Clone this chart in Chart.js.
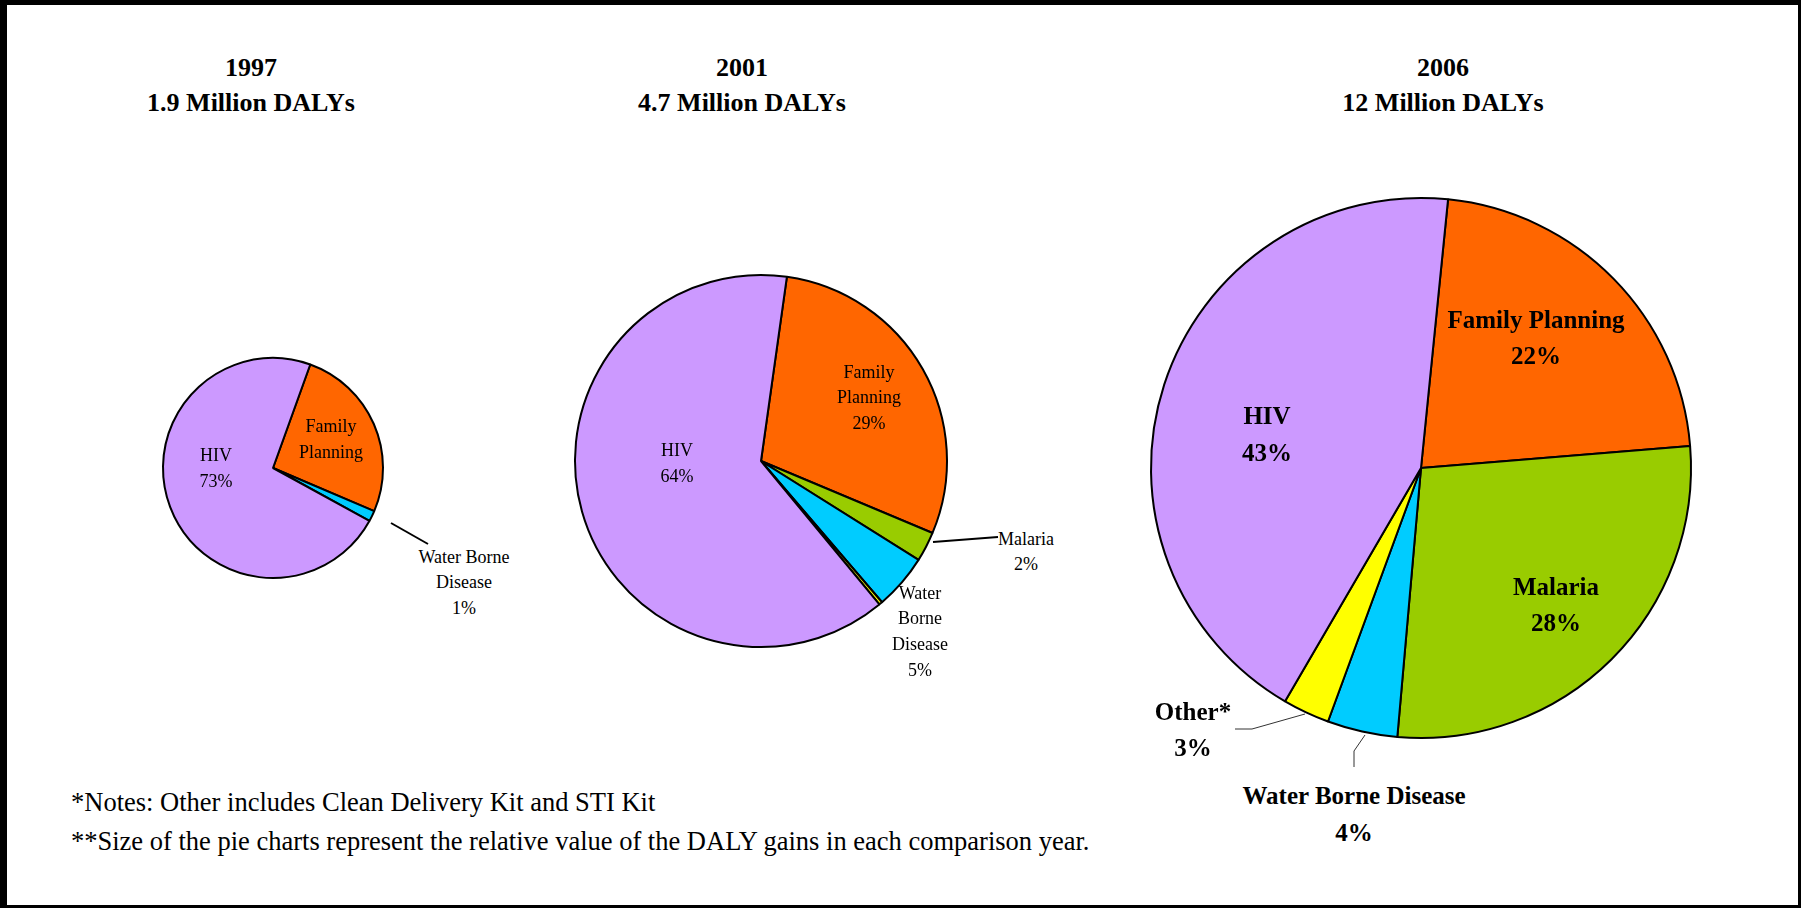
<!DOCTYPE html>
<html>
<head>
<meta charset="utf-8">
<script src="https://cdn.jsdelivr.net/npm/chart.js@4.4.1/dist/chart.umd.min.js"></script>
<style>
  html, body { margin: 0; padding: 0; background: #fff; }
  #page {
    position: relative; width: 1801px; height: 908px; box-sizing: border-box;
    border-left: 7px solid #000; border-top: 5px solid #000;
    border-right: 3px solid #000; border-bottom: 3px solid #000;
    background: #fff; overflow: hidden;
    font-family: "Liberation Serif", "DejaVu Serif", serif; color: #000;
  }
  canvas { position: absolute; }
  .t { position: absolute; white-space: pre; text-align: center; transform: translate(-50%, -50%); }
  .note { position: absolute; white-space: pre; font-size: 26.5px; transform: translateY(-50%); }
  svg { position: absolute; left: -7px; top: -5px; }
</style>
</head>
<body>
<div id="page"></div>
<script>
// ---------- data ----------
const categories = ["Family Planning", "Malaria", "Water Borne Disease", "Other*", "HIV"];
const years = ["1997", "2001", "2006"];
const dalyTitles = ["1.9 Million DALYs", "4.7 Million DALYs", "12 Million DALYs"];
const share1997 = [25.9, 0, 1.6, 0, 72.5];
const share2001 = [29.1, 2.6, 4.8, 0.3, 63.2];
const share2006 = [22.1, 27.7, 4.2, 2.8, 43.2];
const pctText1997 = ["", "", "1%", "", "73%"];
const pctText2001 = ["29%", "2%", "5%", "", "64%"];
const pctText2006 = ["22%", "28%", "4%", "3%", "43%"];
const notes = [
  "*Notes: Other includes Clean Delivery Kit and STI Kit",
  "**Size of the pie charts represent the relative value of the DALY gains in each comparison year."
];

// ---------- styles / layout ----------
const sliceColors = ["#FF6600", "#99CC00", "#00CCFF", "#FFFF00", "#CC99FF"];
const OX = 7, OY = 5; // page border offsets
const page = document.getElementById('page');

function addText(txt, x, y, size, bold, lh) {
  const d = document.createElement('div');
  d.className = 't';
  d.textContent = txt;
  d.style.left = (x - OX) + 'px';
  d.style.top = (y - OY) + 'px';
  d.style.fontSize = size + 'px';
  d.style.fontWeight = bold ? 'bold' : 'normal';
  d.style.lineHeight = lh + 'px';
  page.appendChild(d);
}

const pies = [
  { data: share1997, cx: 273, cy: 468, r: 110, rot: 19.8 },
  { data: share2001, cx: 761, cy: 461, r: 186, rot: 8 },
  { data: share2006, cx: 1421, cy: 468, r: 270, rot: 5.75 }
];
const titleX = [251, 742, 1443];

pies.forEach((p, i) => {
  const size = 2 * p.r + 20;
  const c = document.createElement('canvas');
  c.width = size; c.height = size;
  c.style.left = (p.cx - size / 2 - OX) + 'px';
  c.style.top = (p.cy - size / 2 - OY) + 'px';
  page.appendChild(c);
  new Chart(c, {
    type: 'pie',
    data: {
      labels: categories,
      datasets: [{
        data: p.data,
        backgroundColor: sliceColors,
        borderColor: '#000',
        borderWidth: 2
      }]
    },
    options: {
      responsive: false,
      animation: false,
      events: [],
      rotation: p.rot,
      radius: p.r,
      layout: { padding: 0 },
      plugins: { legend: { display: false }, tooltip: { enabled: false } }
    }
  });
  addText(years[i], titleX[i], 68, 26, true, 30);
  addText(dalyTitles[i], titleX[i], 103, 26, true, 30);
});

// 1997 labels
addText(categories[4] + "\n" + pctText1997[4], 216, 467.5, 18, false, 26);
addText("Family\nPlanning", 331, 439, 18, false, 26);
addText("Water Borne\nDisease\n" + pctText1997[2], 464, 582.5, 18, false, 25.5);
// 2001 labels
addText(categories[4] + "\n" + pctText2001[4], 677, 463, 18, false, 26);
addText("Family\nPlanning\n" + pctText2001[0], 869, 397.5, 18, false, 25.5);
addText(categories[1] + "\n" + pctText2001[1], 1026, 552, 18, false, 25);
addText("Water\nBorne\nDisease\n" + pctText2001[2], 920, 631.5, 18, false, 25.7);
// 2006 labels
addText(categories[0] + "\n" + pctText2006[0], 1536, 337.5, 25, true, 36);
addText(categories[4] + "\n" + pctText2006[4], 1267, 433.5, 25, true, 37);
addText(categories[1] + "\n" + pctText2006[1], 1556, 605, 25, true, 36);
addText(categories[3] + "\n" + pctText2006[3], 1193, 730, 25, true, 36);
addText(categories[2] + "\n" + pctText2006[2], 1354, 813.5, 25, true, 37);

// notes
notes.forEach((n, k) => {
  const d = document.createElement('div');
  d.className = 'note';
  d.textContent = n;
  d.style.left = (71 - OX) + 'px';
  d.style.top = ([802, 841][k] - OY) + 'px';
  page.appendChild(d);
});

// leader lines
const svgNS = "http://www.w3.org/2000/svg";
const svg = document.createElementNS(svgNS, 'svg');
svg.setAttribute('width', 1801); svg.setAttribute('height', 908);
const leaders = [
  { pts: "391,523 428,544", w: 2, c: "#000" },
  { pts: "933,542 998,537", w: 2, c: "#000" },
  { pts: "1305,714 1252,729 1235,729", w: 1, c: "#333" },
  { pts: "1365,735 1354,751 1354,767", w: 1, c: "#333" }
];
leaders.forEach(l => {
  const pl = document.createElementNS(svgNS, 'polyline');
  pl.setAttribute('points', l.pts);
  pl.setAttribute('fill', 'none');
  pl.setAttribute('stroke', l.c);
  pl.setAttribute('stroke-width', l.w);
  svg.appendChild(pl);
});
page.appendChild(svg);
</script>
</body>
</html>
